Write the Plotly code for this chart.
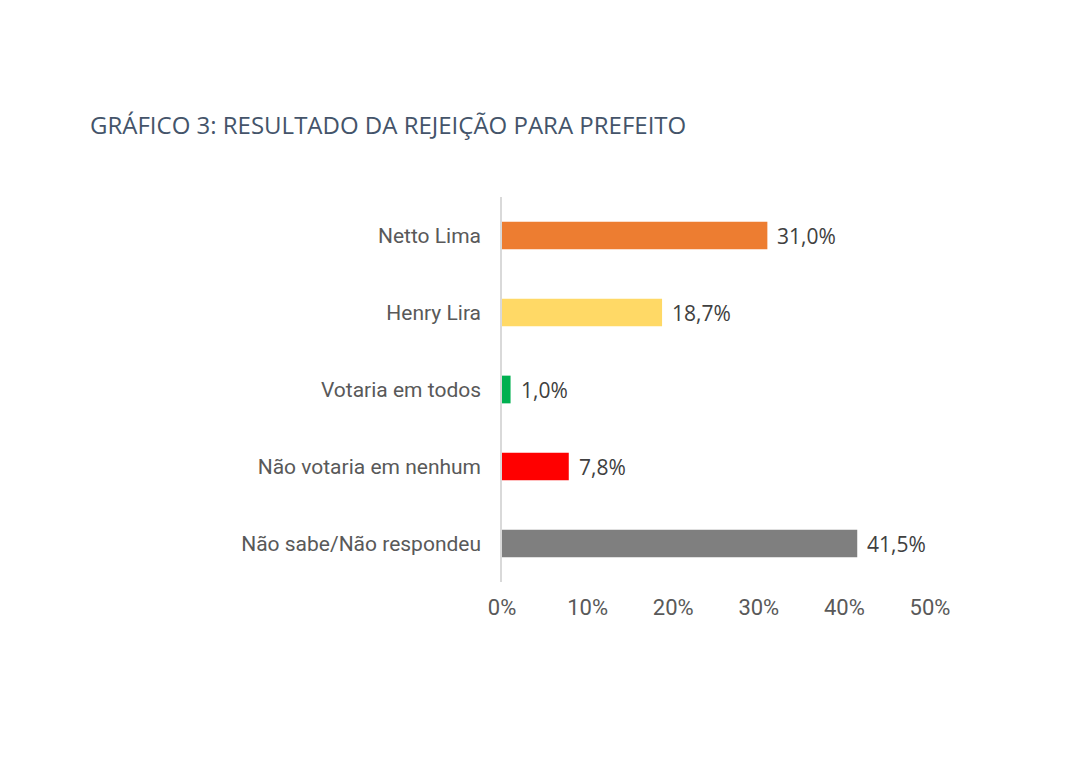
import plotly.graph_objects as go

categorias = ['Netto Lima', 'Henry Lira', 'Votaria em todos',
              'Não votaria em nenhum', 'Não sabe/Não respondeu']
valores = [31.0, 18.7, 1.0, 7.8, 41.5]
cores = ['#ED7D31', '#FFD966', '#00B050', '#FF0000', '#7F7F7F']
rotulos = ['31,0%', '18,7%', '1,0%', '7,8%', '41,5%']
ticks_x = [0, 10, 20, 30, 40, 50]
ticks_txt = ['0%', '10%', '20%', '30%', '40%', '50%']

fig = go.Figure(go.Bar(
    x=valores,
    y=categorias,
    orientation='h',
    marker=dict(color=cores, line=dict(width=0)),
    width=0.36,
    hoverinfo='x+y',
))

# rótulos de valor ao lado das barras
for v, c, r in zip(valores, categorias, rotulos):
    fig.add_annotation(
        x=v, y=c, text=r, showarrow=False,
        xanchor='left', xshift=8,
        font=dict(family='Open Sans', size=21, color='#404040'),
    )

# a página tem margem de 8px no body
fig.update_layout(
    width=1092, height=768,
    paper_bgcolor='white', plot_bgcolor='white',
    margin=dict(l=494, r=170, t=189, b=194),
    showlegend=False,
    title=dict(
        text='GRÁFICO 3: RESULTADO DA REJEIÇÃO PARA PREFEITO',
        x=82 / 1092, xanchor='left', xref='container',
        y=1 - 118 / 768, yanchor='middle', yref='container',
        font=dict(family='Open Sans', size=24, color='#44546A'),
    ),
)

fig.update_xaxes(
    range=[0, 50], tickvals=ticks_x, ticktext=ticks_txt,
    showgrid=False, zeroline=False, showline=False,
    tickfont=dict(family='Roboto', size=22, color='#595959'),
    ticks='', ticklabelstandoff=10,
)
fig.update_yaxes(
    categoryorder='array', categoryarray=categorias[::-1],
    showgrid=False, zeroline=False,
    showline=True, linecolor='#D9D9D9', linewidth=1.5,
    tickfont=dict(family='Roboto', size=21, color='#595959'),
    ticks='', ticklabelstandoff=15,
)

fig.write_html('out.html')
